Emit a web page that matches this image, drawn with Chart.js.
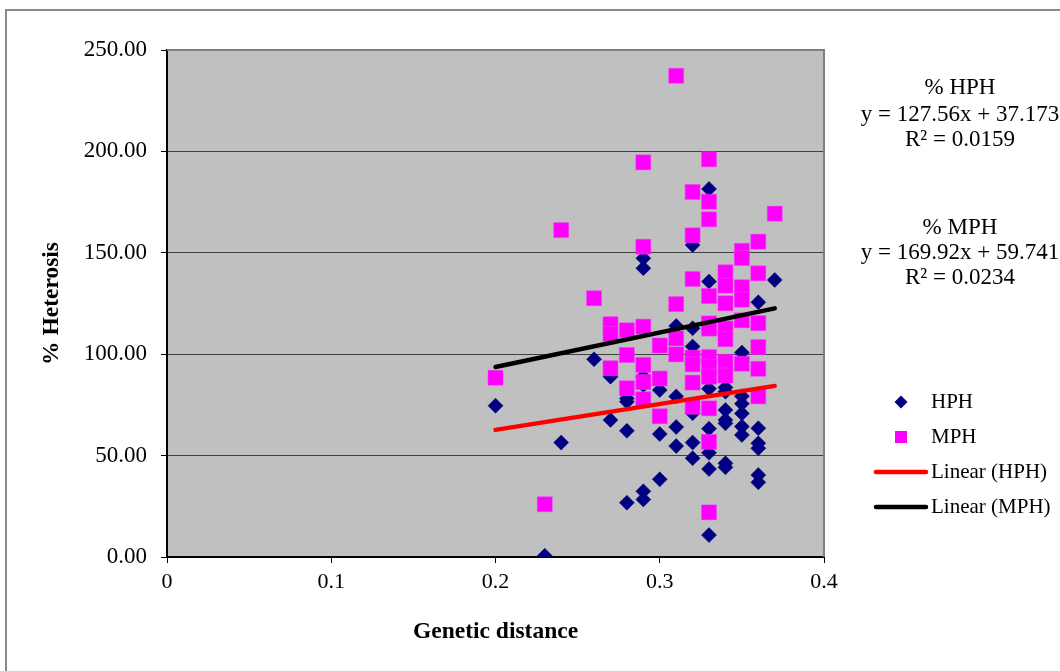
<!DOCTYPE html>
<html>
<head>
<meta charset="utf-8">
<script src="https://cdn.jsdelivr.net/npm/chart.js@4/dist/chart.umd.min.js"></script>
<style>
  html, body { margin: 0; padding: 0; background: #ffffff; }
  #wrap { position: relative; width: 1060px; height: 671px; }
  canvas { display: block; }
</style>
</head>
<body>
<div id="wrap"><canvas id="c" width="1060" height="671"></canvas></div>
<script>
// Genetic distance vs. % heterosis (HPH = heterobeltiosis, MPH = mid-parent heterosis)
const hphDistance = [
  0.20, 0.23, 0.24, 0.26,
  0.27, 0.27,
  0.28, 0.28, 0.28, 0.28,
  0.29, 0.29, 0.29, 0.29, 0.29, 0.29,
  0.30, 0.30, 0.30,
  0.31, 0.31, 0.31, 0.31,
  0.32, 0.32, 0.32, 0.32, 0.32, 0.32,
  0.33, 0.33, 0.33, 0.33, 0.33, 0.33, 0.33,
  0.34, 0.34, 0.34, 0.34, 0.34, 0.34, 0.34,
  0.35, 0.35, 0.35, 0.35, 0.35, 0.35,
  0.36, 0.36, 0.36, 0.36, 0.36, 0.36,
  0.37
];
const hphValue = [
  74.6, 0.6, 56.4, 97.5,
  88.9, 67.6,
  78.2, 76.6, 62.2, 26.8,
  147.3, 142.4, 89.0, 84.8, 32.4, 28.4,
  82.3, 60.6, 38.3,
  113.9, 79.2, 64.1, 54.7,
  153.8, 112.8, 103.8, 70.9, 56.4, 48.7,
  181.5, 135.8, 83.0, 63.3, 51.4, 43.4, 10.8,
  83.6, 81.5, 72.5, 67.6, 65.9, 46.2, 44.2,
  100.8, 79.3, 75.6, 70.8, 64.3, 60.2,
  125.6, 63.5, 56.1, 53.6, 40.4, 36.8,
  136.6
];
const mphDistance = [
  0.20, 0.23, 0.24, 0.26,
  0.27, 0.27, 0.27,
  0.28, 0.28, 0.28,
  0.29, 0.29, 0.29, 0.29, 0.29, 0.29,
  0.30, 0.30, 0.30,
  0.31, 0.31, 0.31, 0.31,
  0.32, 0.32, 0.32, 0.32, 0.32, 0.32, 0.32,
  0.33, 0.33, 0.33, 0.33, 0.33, 0.33, 0.33, 0.33, 0.33, 0.33, 0.33, 0.33,
  0.34, 0.34, 0.34, 0.34, 0.34, 0.34, 0.34,
  0.35, 0.35, 0.35, 0.35, 0.35, 0.35,
  0.36, 0.36, 0.36, 0.36, 0.36, 0.36,
  0.37
];
const mphValue = [
  88.4, 26.0, 161.2, 127.6,
  114.8, 110.0, 93.1,
  111.8, 99.6, 83.2,
  194.6, 153.0, 113.6, 94.7, 86.3, 77.8,
  104.3, 88.0, 69.4,
  237.3, 124.7, 107.8, 99.9,
  180.0, 158.6, 137.1, 98.3, 95.0, 86.0, 74.1,
  196.1, 175.2, 166.5, 128.7, 115.2, 112.6, 98.6, 93.8, 88.9, 73.3, 56.8, 22.0,
  140.4, 133.8, 125.1, 112.7, 107.4, 96.3, 89.5,
  151.0, 147.4, 133.0, 126.9, 116.7, 95.3,
  155.5, 139.9, 115.3, 103.5, 92.8, 79.2,
  169.3
];

// Linear trend coefficients [slope, intercept] and their R² values
const hphTrend = [127.56, 37.173];
const mphTrend = [169.92, 59.741];
const hphR2 = '0.0159';
const mphR2 = '0.0234';
const trendRange = [0.20, 0.37];

// Axis ticks
const yTicks = [0, 50, 100, 150, 200, 250];
const xTicks = [0, 0.1, 0.2, 0.3, 0.4];

const SERIF = "'Liberation Serif', 'Times New Roman', serif";
const NAVY = '#000080';
const MAGENTA = '#FF00FF';

const toPoints = (xs, ys) => xs.map((x, i) => ({ x: x, y: ys[i] }));
const trendPoints = (coef) => trendRange.map(x => ({ x: x, y: coef[0] * x + coef[1] }));

// Plot background, outer frame, plot frame, legend and trend equations
const decor = {
  id: 'decor',
  beforeDraw(chart) {
    const { ctx, chartArea: a } = chart;
    ctx.save();
    ctx.fillStyle = '#ffffff';
    ctx.fillRect(0, 0, chart.width, chart.height);
    ctx.strokeStyle = '#8a8a8a';
    ctx.lineWidth = 2;
    ctx.strokeRect(6, 10, 1200, 800);
    ctx.fillStyle = '#C0C0C0';
    ctx.fillRect(a.left, a.top, a.right - a.left, a.bottom - a.top);
    ctx.restore();
  },
  beforeDatasetsDraw(chart) {
    const { ctx, chartArea: a } = chart;
    ctx.save();
    ctx.strokeStyle = '#808080';
    ctx.lineWidth = 2;
    ctx.beginPath();
    ctx.moveTo(a.left, a.top);
    ctx.lineTo(a.right, a.top);
    ctx.lineTo(a.right, a.bottom);
    ctx.stroke();
    ctx.restore();
  },
  afterDraw(chart) {
    const { ctx } = chart;
    ctx.save();
    ctx.fillStyle = '#000';
    ctx.textBaseline = 'middle';

    // trend equations
    ctx.font = '23px ' + SERIF;
    ctx.textAlign = 'center';
    const cx = 960;
    const eq = (c) => 'y = ' + c[0] + 'x + ' + c[1];
    ctx.fillText('% HPH', cx, 88);
    ctx.fillText(eq(hphTrend), cx, 115);
    ctx.fillText('R\u00B2 = ' + hphR2, cx, 140);
    ctx.fillText('% MPH', cx, 228);
    ctx.fillText(eq(mphTrend), cx, 253);
    ctx.fillText('R\u00B2 = ' + mphR2, cx, 278);

    // legend
    ctx.font = '21px ' + SERIF;
    ctx.textAlign = 'left';
    const mx = 901, tx = 931;
    // diamond
    ctx.fillStyle = NAVY;
    ctx.beginPath();
    ctx.moveTo(mx, 402 - 6.5);
    ctx.lineTo(mx + 6.5, 402);
    ctx.lineTo(mx, 402 + 6.5);
    ctx.lineTo(mx - 6.5, 402);
    ctx.closePath();
    ctx.fill();
    // square
    ctx.fillStyle = MAGENTA;
    ctx.fillRect(mx - 6, 437 - 6, 12, 12);
    // trend line swatches
    ctx.lineCap = 'round';
    ctx.lineWidth = 4.5;
    ctx.strokeStyle = '#FF0000';
    ctx.beginPath(); ctx.moveTo(876, 472); ctx.lineTo(926, 472); ctx.stroke();
    ctx.strokeStyle = '#000000';
    ctx.beginPath(); ctx.moveTo(876, 507); ctx.lineTo(926, 507); ctx.stroke();

    ctx.fillStyle = '#000';
    ctx.fillText('HPH', tx, 402);
    ctx.fillText('MPH', tx, 437);
    ctx.fillText('Linear (HPH)', tx, 472);
    ctx.fillText('Linear (MPH)', tx, 507);
    ctx.restore();
  }
};

new Chart(document.getElementById('c'), {
  type: 'scatter',
  data: {
    datasets: [
      {
        label: 'Linear (MPH)', type: 'line', order: 0,
        data: trendPoints(mphTrend),
        borderColor: '#000000', borderWidth: 4.5, borderCapStyle: 'round',
        pointRadius: 0, fill: false, tension: 0
      },
      {
        label: 'Linear (HPH)', type: 'line', order: 0,
        data: trendPoints(hphTrend),
        borderColor: '#FF0000', borderWidth: 4.5, borderCapStyle: 'round',
        pointRadius: 0, fill: false, tension: 0
      },
      {
        label: 'MPH', order: 1,
        data: toPoints(mphDistance, mphValue),
        pointStyle: 'rect', pointRadius: 10.6,
        backgroundColor: MAGENTA, borderColor: '#F040F0', borderWidth: 0.5
      },
      {
        label: 'HPH', order: 2,
        data: toPoints(hphDistance, hphValue),
        pointStyle: 'rectRot', pointRadius: 7.5,
        backgroundColor: NAVY, borderColor: NAVY, borderWidth: 0.5
      }
    ]
  },
  options: {
    responsive: false,
    animation: false,
    events: [],
    layout: { padding: { left: 0, top: 50, right: 236, bottom: 0 } },
    plugins: { legend: { display: false }, tooltip: { enabled: false } },
    scales: {
      x: {
        type: 'linear',
        min: xTicks[0], max: xTicks[xTicks.length - 1],
        afterFit(s) { s.height = 114; },
        afterBuildTicks(s) { s.ticks = xTicks.map(v => ({ value: v })); },
        border: { color: '#000000', width: 2 },
        grid: { drawOnChartArea: false, drawTicks: true, tickLength: 6, tickColor: '#000000', tickWidth: 1 },
        ticks: {
          padding: 6,
          color: '#000',
          font: { family: SERIF, size: 22 },
          maxRotation: 0,
          callback: v => String(Number(v.toFixed(1)))
        },
        title: {
          display: true, text: 'Genetic distance', color: '#000',
          font: { family: SERIF, size: 23.5, weight: 'bold' },
          padding: { top: 0, bottom: 25 }
        }
      },
      y: {
        type: 'linear',
        min: yTicks[0], max: yTicks[yTicks.length - 1],
        afterFit(s) { s.width = 167; },
        afterBuildTicks(s) { s.ticks = yTicks.map(v => ({ value: v })); },
        border: { color: '#000000', width: 2 },
        grid: { color: '#404040', lineWidth: 1, drawTicks: true, tickLength: 6, tickColor: '#000000', tickWidth: 1 },
        ticks: {
          padding: 14,
          color: '#000',
          font: { family: SERIF, size: 23 },
          callback: v => v.toFixed(2)
        },
        title: {
          display: true, text: '% Heterosis', color: '#000',
          font: { family: SERIF, size: 23.5, weight: 'bold' },
          padding: { top: 38, bottom: 0 }
        }
      }
    }
  },
  plugins: [decor]
});
</script>
</body>
</html>
